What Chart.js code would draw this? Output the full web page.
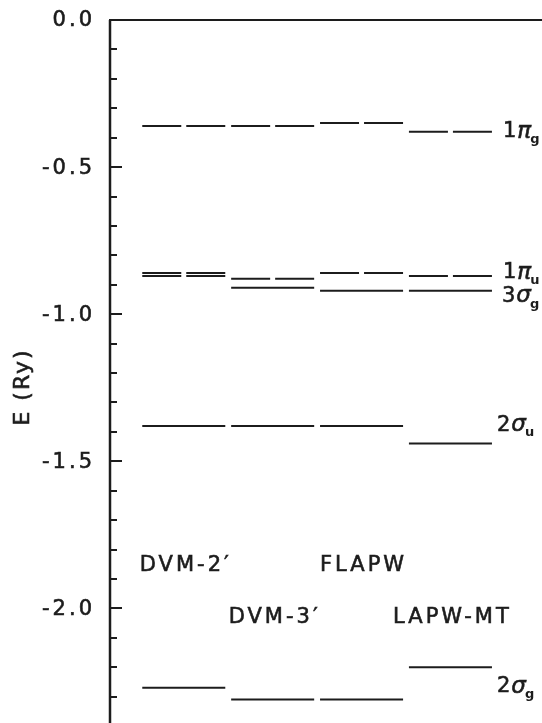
<!DOCTYPE html>
<html><head><meta charset="utf-8">
<script src="https://cdn.jsdelivr.net/npm/chart.js@4/dist/chart.umd.min.js"></script>
<style>html,body{margin:0;padding:0;background:#fff;overflow:hidden;width:542px;height:723px}canvas{display:block}</style>
</head><body>
<canvas id="c" width="542" height="726"></canvas>
<script>
// ---- data ----
const methods = ["DVM-2\u2032", "DVM-3\u2032", "FLAPW", "LAPW-MT"];
const orbitalLabels = [["1","\u03C0","g"], ["1","\u03C0","u"], ["3","\u03C3","g"], ["2","\u03C3","u"], ["2","\u03C3","g"]];
const E_1pi_g  = [-0.36, -0.36, -0.35, -0.38];
const E_1pi_u  = [-0.86, -0.88, -0.86, -0.87];
const E_3sig_g = [-0.87, -0.91, -0.92, -0.92];
const E_2sig_u = [-1.38, -1.38, -1.38, -1.44];
const E_2sig_g = [-2.27, -2.31, -2.31, -2.20];
const yTickValues = [0, -0.5, -1.0, -1.5, -2.0];
const yTickLabels = ["0.0", "-0.5", "-1.0", "-1.5", "-2.0"];

const levels = [E_1pi_g, E_1pi_u, E_3sig_g, E_2sig_u, E_2sig_g];

// ---- styling / layout ----
const INK = '#1c1c1c';
const HALF = 0.467;
const dashedCols = [[0,1,2,3],[0,1,2,3],[0],[],[]];
const orbLabelE = [-0.38, -0.86, -0.94, -1.377, -2.267];
const orbLabelDx = [11, 11, 10, 5, 5];
const methodLabelE = [-1.853, -2.03, -1.853, -2.03];

function buildPoints(vals) {
  const pts = [];
  vals.forEach((v, i) => {
    pts.push({x: i - HALF, y: v});
    pts.push({x: i + HALF, y: v});
    pts.push({x: i + 0.5, y: null});
  });
  return pts;
}

const datasets = levels.map((vals, k) => ({
  data: buildPoints(vals),
  borderColor: INK,
  borderWidth: 2,
  pointRadius: 0,
  spanGaps: false,
  tension: 0,
  borderCapStyle: 'butt',
  segment: {
    borderDash: ctx => dashedCols[k].includes(Math.floor(ctx.p0DataIndex / 3)) ? [39, 5] : undefined
  }
}));

function heavyText(ctx, s, x, y) {
  ctx.fillText(s, x, y);
  ctx.strokeText(s, x, y);
}

const decor = {
  id: 'decor',
  afterDraw(chart) {
    const ctx = chart.ctx;
    const xs = chart.scales.x, ys = chart.scales.y;
    const a = chart.chartArea;
    ctx.save();
    ctx.strokeStyle = INK;
    ctx.fillStyle = INK;
    // axes
    ctx.lineWidth = 2.5;
    ctx.beginPath();
    ctx.moveTo(a.left, a.top);
    ctx.lineTo(a.left, chart.height);
    ctx.stroke();
    ctx.lineWidth = 2;
    ctx.beginPath();
    ctx.moveTo(a.left - 1, a.top);
    ctx.lineTo(chart.width, a.top);
    ctx.stroke();
    // ticks (inward)
    ctx.lineWidth = 2;
    ys.ticks.forEach(t => {
      const y = Math.round(ys.getPixelForValue(t.value));
      const major = Math.abs(t.value * 2 - Math.round(t.value * 2)) < 1e-6;
      ctx.beginPath();
      ctx.moveTo(a.left, y);
      ctx.lineTo(a.left + (major ? 12 : 7), y);
      ctx.stroke();
    });
    ctx.lineWidth = 0.6;
    // tick labels
    ctx.font = '21px "DejaVu Sans"';
    ctx.letterSpacing = '3px';
    ctx.textAlign = 'right';
    ctx.textBaseline = 'middle';
    yTickValues.forEach((v, i) => {
      heavyText(ctx, yTickLabels[i], 95, ys.getPixelForValue(v) + 1);
    });
    // axis title
    ctx.save();
    ctx.translate(23, 387);
    ctx.rotate(-Math.PI / 2);
    ctx.textAlign = 'center';
    ctx.letterSpacing = '2px';
    ctx.font = '22px "DejaVu Sans"';
    heavyText(ctx, 'E (Ry)', 0, 0);
    ctx.restore();
    // method labels
    ctx.letterSpacing = '3px';
    ctx.textAlign = 'center';
    ctx.font = '21px "DejaVu Sans"';
    methods.forEach((m, i) => {
      heavyText(ctx, m, xs.getPixelForValue(i) + 2, ys.getPixelForValue(methodLabelE[i]));
    });
    // orbital labels
    ctx.letterSpacing = '0px';
    ctx.textAlign = 'left';
    orbitalLabels.forEach((lab, k) => {
      let x = xs.getPixelForValue(3 + HALF) + orbLabelDx[k];
      const y = ys.getPixelForValue(orbLabelE[k]);
      ctx.font = '21px "DejaVu Sans"';
      heavyText(ctx, lab[0], x, y);
      x += ctx.measureText(lab[0]).width + 1;
      ctx.font = 'oblique 23px "DejaVu Sans"';
      heavyText(ctx, lab[1], x, y);
      x += ctx.measureText(lab[1]).width - 1;
      ctx.font = 'bold 13px "DejaVu Sans"';
      ctx.fillText(lab[2], x, y + 8);
    });
    ctx.restore();
  }
};

new Chart(document.getElementById('c'), {
  type: 'line',
  data: { datasets },
  options: {
    responsive: false,
    animation: false,
    events: [],
    layout: { padding: { left: 110, top: 20, right: 0, bottom: 0 } },
    plugins: { legend: { display: false }, tooltip: { enabled: false } },
    scales: {
      x: { type: 'linear', min: -0.83, max: 4.03, display: false },
      y: { type: 'linear', min: -2.4, max: 0, display: false, ticks: { stepSize: 0.1 } }
    }
  },
  plugins: [decor]
});
</script>
</body></html>
